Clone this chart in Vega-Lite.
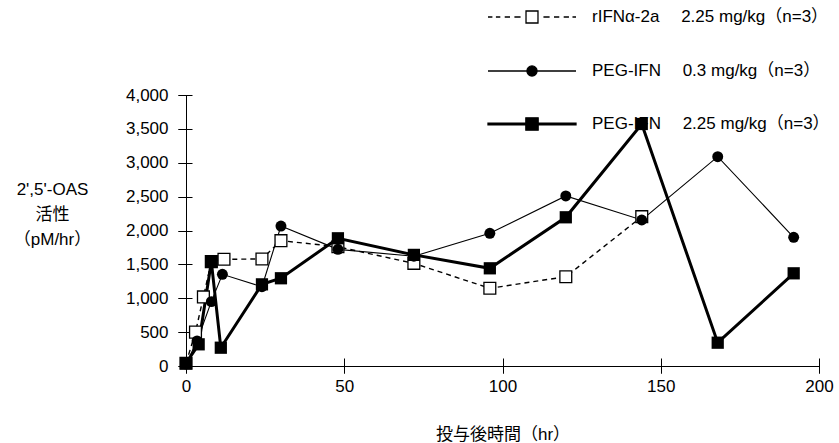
{
  "$schema": "https://vega.github.io/schema/vega-lite/v6.json",
  "width": 633,
  "height": 271,
  "autosize": "none",
  "padding": {"left": 186, "top": 95, "right": 20, "bottom": 77},
  "background": "white",
  "config": {
    "font": "'Liberation Sans', 'Noto Sans CJK JP', sans-serif",
    "view": {"stroke": null},
    "axis": {"domainColor": "black", "tickColor": "black", "labelColor": "black", "titleColor": "black", "labelFontSize": 17, "titleFontSize": 17, "titleFontWeight": "normal", "grid": false, "labelFlush": false, "labelOverlap": false}
  },
  "data": {"values": [
    {"series": "rIFNα-2a\u3000 2.25 mg/kg（n=3）", "hr": 0, "oas": 40},
    {"series": "rIFNα-2a\u3000 2.25 mg/kg（n=3）", "hr": 3, "oas": 500},
    {"series": "rIFNα-2a\u3000 2.25 mg/kg（n=3）", "hr": 5.5, "oas": 1020},
    {"series": "rIFNα-2a\u3000 2.25 mg/kg（n=3）", "hr": 8, "oas": 1540},
    {"series": "rIFNα-2a\u3000 2.25 mg/kg（n=3）", "hr": 12, "oas": 1575},
    {"series": "rIFNα-2a\u3000 2.25 mg/kg（n=3）", "hr": 24, "oas": 1580},
    {"series": "rIFNα-2a\u3000 2.25 mg/kg（n=3）", "hr": 30, "oas": 1850},
    {"series": "rIFNα-2a\u3000 2.25 mg/kg（n=3）", "hr": 48, "oas": 1760},
    {"series": "rIFNα-2a\u3000 2.25 mg/kg（n=3）", "hr": 72, "oas": 1515},
    {"series": "rIFNα-2a\u3000 2.25 mg/kg（n=3）", "hr": 96, "oas": 1147},
    {"series": "rIFNα-2a\u3000 2.25 mg/kg（n=3）", "hr": 120, "oas": 1318},
    {"series": "rIFNα-2a\u3000 2.25 mg/kg（n=3）", "hr": 144, "oas": 2204},
    {"series": "PEG-IFN\u3000 0.3 mg/kg（n=3）", "hr": 0, "oas": 30},
    {"series": "PEG-IFN\u3000 0.3 mg/kg（n=3）", "hr": 3.5, "oas": 370},
    {"series": "PEG-IFN\u3000 0.3 mg/kg（n=3）", "hr": 8, "oas": 950},
    {"series": "PEG-IFN\u3000 0.3 mg/kg（n=3）", "hr": 11.5, "oas": 1353},
    {"series": "PEG-IFN\u3000 0.3 mg/kg（n=3）", "hr": 24, "oas": 1170},
    {"series": "PEG-IFN\u3000 0.3 mg/kg（n=3）", "hr": 30, "oas": 2066},
    {"series": "PEG-IFN\u3000 0.3 mg/kg（n=3）", "hr": 48, "oas": 1722},
    {"series": "PEG-IFN\u3000 0.3 mg/kg（n=3）", "hr": 72, "oas": 1620},
    {"series": "PEG-IFN\u3000 0.3 mg/kg（n=3）", "hr": 96, "oas": 1958},
    {"series": "PEG-IFN\u3000 0.3 mg/kg（n=3）", "hr": 120, "oas": 2510},
    {"series": "PEG-IFN\u3000 0.3 mg/kg（n=3）", "hr": 144, "oas": 2155},
    {"series": "PEG-IFN\u3000 0.3 mg/kg（n=3）", "hr": 168, "oas": 3090},
    {"series": "PEG-IFN\u3000 0.3 mg/kg（n=3）", "hr": 192, "oas": 1900},
    {"series": "PEG-IFN\u3000 2.25 mg/kg（n=3）", "hr": 0, "oas": 40},
    {"series": "PEG-IFN\u3000 2.25 mg/kg（n=3）", "hr": 4, "oas": 320},
    {"series": "PEG-IFN\u3000 2.25 mg/kg（n=3）", "hr": 8, "oas": 1540},
    {"series": "PEG-IFN\u3000 2.25 mg/kg（n=3）", "hr": 11, "oas": 270},
    {"series": "PEG-IFN\u3000 2.25 mg/kg（n=3）", "hr": 24, "oas": 1205},
    {"series": "PEG-IFN\u3000 2.25 mg/kg（n=3）", "hr": 30, "oas": 1295},
    {"series": "PEG-IFN\u3000 2.25 mg/kg（n=3）", "hr": 48, "oas": 1885},
    {"series": "PEG-IFN\u3000 2.25 mg/kg（n=3）", "hr": 72, "oas": 1640},
    {"series": "PEG-IFN\u3000 2.25 mg/kg（n=3）", "hr": 96, "oas": 1442},
    {"series": "PEG-IFN\u3000 2.25 mg/kg（n=3）", "hr": 120, "oas": 2195},
    {"series": "PEG-IFN\u3000 2.25 mg/kg（n=3）", "hr": 144, "oas": 3572},
    {"series": "PEG-IFN\u3000 2.25 mg/kg（n=3）", "hr": 168, "oas": 344},
    {"series": "PEG-IFN\u3000 2.25 mg/kg（n=3）", "hr": 192, "oas": 1368}
  ]},
  "resolve": {"axis": {"x": "independent", "y": "independent"}},
  "layer": [
    {
      "transform": [{"filter": {"field": "series", "equal": "rIFNα-2a\u3000 2.25 mg/kg（n=3）"}}],
      "mark": {"type": "line", "color": "black", "strokeWidth": 1.4, "strokeDash": [5, 4], "clip": false},
      "encoding": {
        "x": {"field": "hr", "type": "quantitative", "scale": {"domain": [0, 200], "nice": false},
              "axis": {"orient": "bottom", "values": [0, 50, 100, 150, 200], "tickSize": 7, "labelPadding": 5, "title": "投与後時間（hr）", "titleY": 68, "titleBaseline": "middle"}},
        "y": {"field": "oas", "type": "quantitative", "scale": {"domain": [0, 4000], "nice": false},
              "axis": {"orient": "left", "values": [0, 500, 1000, 1500, 2000, 2500, 3000, 3500, 4000], "format": ",d", "tickSize": 8, "labelPadding": 10,
                       "title": ["2',5'-OAS", "活性", "（pM/hr）"], "titleAngle": 0, "titleAlign": "center", "titleBaseline": "top", "titleX": -134, "titleY": 86, "titleLineHeight": 25}}
      }
    },
    {
      "transform": [{"filter": {"field": "series", "equal": "PEG-IFN\u3000 0.3 mg/kg（n=3）"}}],
      "mark": {"type": "line", "color": "black", "strokeWidth": 1.1, "clip": false},
      "encoding": {
        "x": {"field": "hr", "type": "quantitative", "axis": null},
        "y": {"field": "oas", "type": "quantitative", "axis": null}
      }
    },
    {
      "transform": [{"filter": {"field": "series", "equal": "PEG-IFN\u3000 2.25 mg/kg（n=3）"}}],
      "mark": {"type": "line", "color": "black", "strokeWidth": 3, "clip": false},
      "encoding": {
        "x": {"field": "hr", "type": "quantitative", "axis": null},
        "y": {"field": "oas", "type": "quantitative", "axis": null}
      }
    },
    {
      "transform": [{"filter": {"field": "series", "equal": "rIFNα-2a\u3000 2.25 mg/kg（n=3）"}}],
      "mark": {"type": "point", "shape": "square", "filled": true, "fill": "white", "stroke": "black", "strokeWidth": 1.3, "size": 140, "opacity": 1, "clip": false},
      "encoding": {
        "x": {"field": "hr", "type": "quantitative", "axis": {"orient": "bottom", "values": [0, 50, 100, 150, 200], "tickSize": 15, "offset": -8, "labels": false, "domain": false, "title": null}},
        "y": {"field": "oas", "type": "quantitative", "axis": {"orient": "left", "values": [0, 500, 1000, 1500, 2000, 2500, 3000, 3500, 4000], "tickSize": 14, "offset": -6, "labels": false, "domain": false, "title": null}}
      }
    },
    {
      "transform": [{"filter": {"field": "series", "equal": "PEG-IFN\u3000 0.3 mg/kg（n=3）"}}],
      "mark": {"type": "point", "shape": "circle", "filled": true, "fill": "black", "strokeWidth": 0, "size": 120, "opacity": 1, "clip": false},
      "encoding": {
        "x": {"field": "hr", "type": "quantitative", "axis": null},
        "y": {"field": "oas", "type": "quantitative", "axis": null}
      }
    },
    {
      "transform": [{"filter": {"field": "series", "equal": "PEG-IFN\u3000 2.25 mg/kg（n=3）"}}],
      "mark": {"type": "point", "shape": "square", "filled": true, "fill": "black", "strokeWidth": 0, "size": 150, "opacity": 1, "clip": false},
      "encoding": {
        "x": {"field": "hr", "type": "quantitative", "axis": null},
        "y": {"field": "oas", "type": "quantitative", "axis": null}
      }
    },
    {
      "transform": [{"filter": "datum.hr < 0"}],
      "mark": {"type": "point", "filled": true, "stroke": "black", "strokeWidth": 1.3, "size": 7744, "opacity": 1, "clip": false},
      "encoding": {
        "x": {"field": "hr", "type": "quantitative", "axis": null},
        "y": {"field": "oas", "type": "quantitative", "axis": null},
        "shape": {"field": "series", "type": "nominal",
          "scale": {"domain": ["rIFNα-2a\u3000 2.25 mg/kg（n=3）", "PEG-IFN\u3000 0.3 mg/kg（n=3）", "PEG-IFN\u3000 2.25 mg/kg（n=3）"],
                    "range": ["M-1,0H-0.9M-0.82,0H-0.72M-0.62,0H-0.5M-0.4,0H-0.26M0.26,0H0.4M0.5,0H0.62M0.72,0H0.84M0.92,0H1M-0.136,-0.136H0.136V0.136H-0.136Z",
                              "M-1,0H1M-0.115,0A0.115,0.115 0 1,0 0.115,0A0.115,0.115 0 1,0 -0.115,0Z",
                              "M-1,-0.02H1V0.02H-1ZM-0.14,-0.14H0.14V0.14H-0.14Z"]},
          "legend": {"title": null, "orient": "none", "legendX": 301, "legendY": -123, "padding": 0, "labelFontSize": 17, "labelColor": "black", "labelLimit": 400, "labelOffset": 15, "rowPadding": -28, "symbolOffset": 0, "symbolSize": 7744, "symbolStrokeWidth": 1.3}},
        "fill": {"field": "series", "type": "nominal",
          "scale": {"domain": ["rIFNα-2a\u3000 2.25 mg/kg（n=3）", "PEG-IFN\u3000 0.3 mg/kg（n=3）", "PEG-IFN\u3000 2.25 mg/kg（n=3）"], "range": ["white", "black", "black"]},
          "legend": {"title": null, "orient": "none", "legendX": 301, "legendY": -123, "padding": 0, "labelFontSize": 17, "labelColor": "black", "labelLimit": 400, "labelOffset": 15, "rowPadding": -28, "symbolOffset": 0, "symbolSize": 7744, "symbolStrokeWidth": 1.3}}
      }
    }
  ]
}
